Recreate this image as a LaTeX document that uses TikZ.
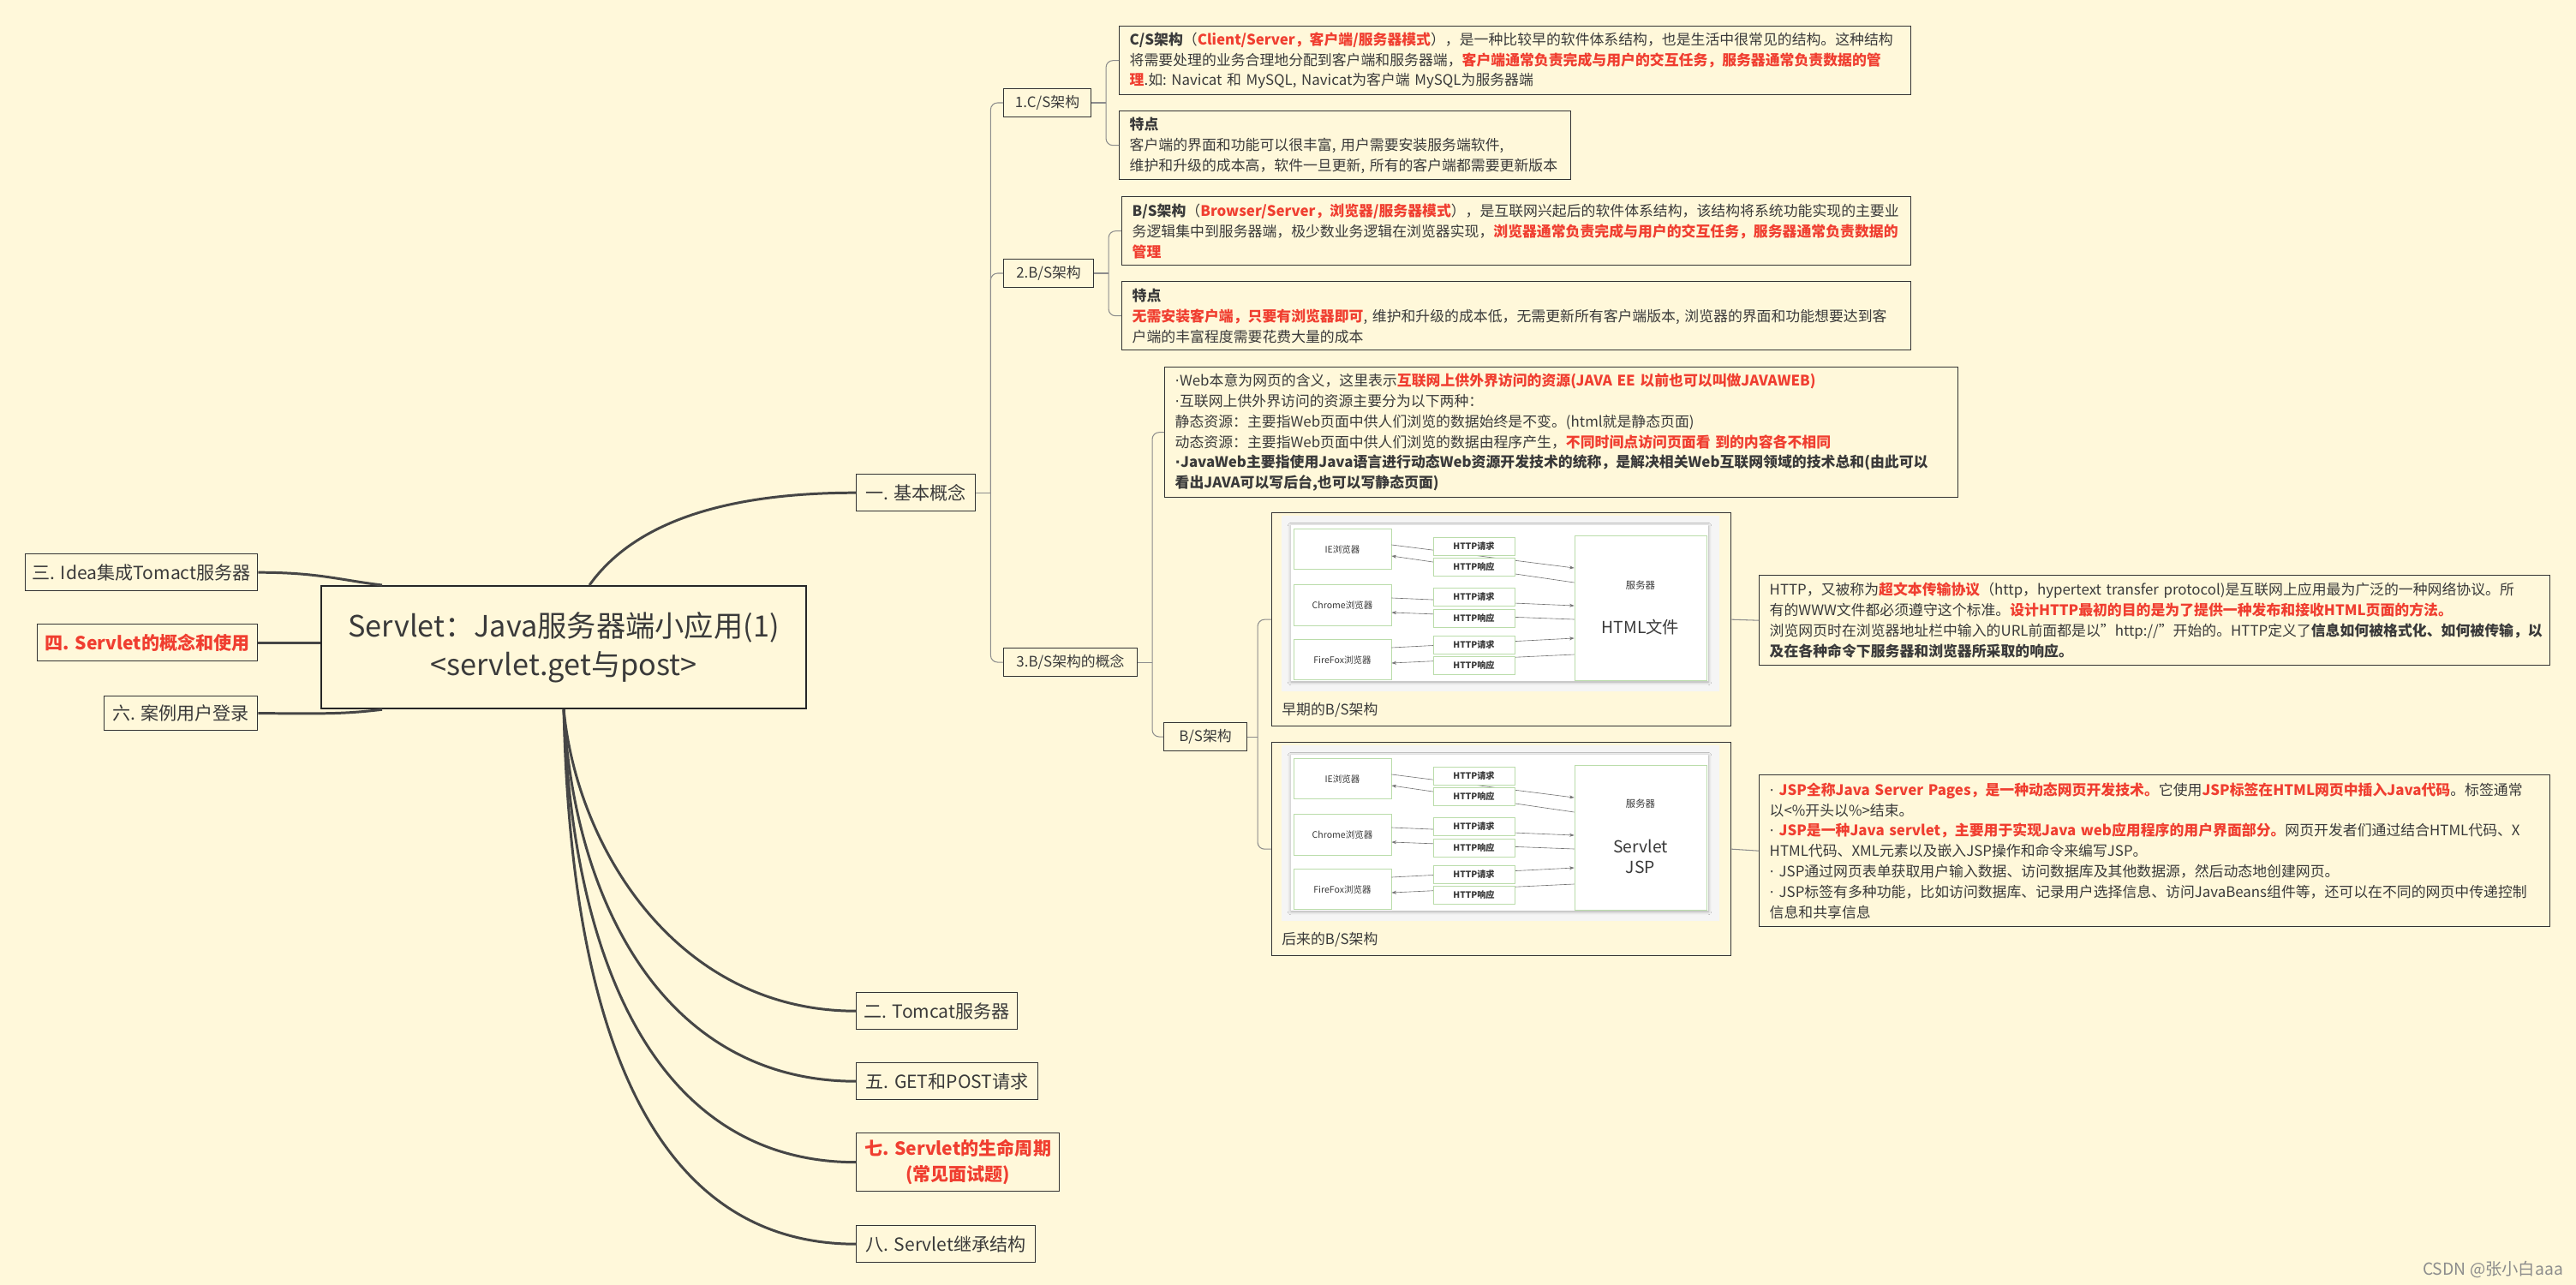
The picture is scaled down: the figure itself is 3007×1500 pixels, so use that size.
\documentclass[tikz,border=0pt]{standalone}
\usepackage{fontspec}
\setmainfont{Noto Sans CJK SC}
\newfontfamily\dotf{DejaVu Sans}
\usepackage{xcolor}
\usepackage{tikz}
\usetikzlibrary{calc,arrows.meta,shadows.blur}
\definecolor{bgc}{RGB}{255,248,218}
\definecolor{txt}{RGB}{58,58,58}
\definecolor{hred}{RGB}{240,62,48}
\definecolor{lnd}{RGB}{70,70,70}
\definecolor{lnt}{RGB}{140,140,140}
\definecolor{gbox}{RGB}{186,220,170}
\newcommand{\hl}[1]{\textcolor{hred}{\textbf{#1}}}
\newcommand{\bfnt}{\fontsize{9.6}{13.6}\selectfont}
\newcommand{\md}{{\dotf ·}}
\newcommand{\bsshot}[5]{
 \begin{scope}[shift={(0,#2)}]
 \node[shot] (#1) at (1484,0) {};
 \fill[black!4] (1496,4) rectangle (2007,209);
 \fill[white,blur shadow={shadow blur steps=5,shadow xshift=0pt,shadow yshift=-0.6pt,shadow opacity=30}] (1507,15) rectangle (1994,197);
 \node[brw] (#1ie) at (1567,43) {IE浏览器};
 \node[brw] (#1ch) at (1567,108.5) {Chrome浏览器};
 \node[brw] (#1ff) at (1567,172) {FireFox浏览器};
 \node[srv] (#1sv) at (1915,111.5) {};
 \draw[ar] ($(#1ie.east)+(0,-5)$) -- ($(#1sv.west)+(0,-46.5)$);
 \draw[ar] ($(#1sv.west)+(0,-29.5)$) -- ($(#1ie.east)+(0,8)$);
 \draw[ar] ($(#1ch.east)+(0,-8.5)$) -- ($(#1sv.west)+(0,-2.5)$);
 \draw[ar] ($(#1sv.west)+(0,13.5)$) -- ($(#1ch.east)+(0,8.5)$);
 \draw[ar] ($(#1ff.east)+(0,-14)$) -- ($(#1sv.west)+(0,35.5)$);
 \draw[ar] ($(#1sv.west)+(0,54.5)$) -- ($(#1ff.east)+(0,4)$);
 \node[hm] (#1q1) at (1720.5,39.5) {HTTP请求};
 \node[hm] (#1r1) at (1720.5,63.5) {HTTP响应};
 \node[hm] (#1q2) at (1720.5,99) {HTTP请求};
 \node[hm] (#1r2) at (1720.5,124) {HTTP响应};
 \node[hm] (#1q3) at (1720.5,154.5) {HTTP请求};
 \node[hm] (#1r3) at (1720.5,179) {HTTP响应};
 \node[font=\fontsize{6.5}{8}\selectfont] (#1lb) at (1915,#5) {服务器};
 \node[align=center,font=\fontsize{11}{14}\selectfont] (#1tx) at (1915,134) {#4};
 \node[capt] (#1c) at (1496,231) {#3};
 \end{scope}}
\begin{document}
\begin{tikzpicture}[x=0.02cm,y=-0.02cm,
 every node/.style={text=txt},
 rt/.style={draw=black!85,line width=1.3pt,anchor=north west,inner sep=0pt,minimum width=11.32cm,minimum height=2.86cm,align=center,font=\fontsize{19.5}{25.5}\selectfont},
 tp/.style={draw=black!80,line width=0.8pt,anchor=north west,inner sep=0pt,minimum height=0.86cm,align=center,font=\fontsize{12}{17}\selectfont},
 sb/.style={draw=black!80,line width=0.6pt,anchor=north west,inner sep=0pt,minimum height=0.66cm,font=\bfnt},
 nt/.style={draw=black!80,line width=0.8pt,anchor=north west,inner xsep=0.24cm,inner ysep=0pt,align=left,font=\bfnt},
 br/.style={draw=lnd,line width=1.7pt},
 ln/.style={draw=lnt,line width=0.6pt,rounded corners=0.16cm},
 shot/.style={draw=black!80,line width=0.8pt,anchor=north west,inner sep=0pt,minimum width=10.72cm,minimum height=4.98cm},
 brw/.style={draw=gbox,fill=white,line width=0.5pt,inner sep=0pt,minimum width=2.28cm,minimum height=0.95cm,font=\fontsize{6}{7}\selectfont},
 hm/.style={draw=gbox,fill=white,line width=0.5pt,inner sep=0pt,minimum width=1.9cm,minimum height=0.42cm,font=\fontsize{5.8}{7}\selectfont\bfseries},
 srv/.style={draw=gbox,fill=white,line width=0.5pt,inner sep=0pt,minimum width=3.08cm,minimum height=3.38cm},
 ar/.style={-{Stealth[length=1.1mm,width=0.8mm]},draw=black!55,line width=0.35pt},
 capt/.style={anchor=west,inner sep=0pt,font=\bfnt},
 wm/.style={text=black!45,font=\fontsize{11}{13}\selectfont}]
\useasboundingbox (0,0) rectangle (3007,1500);
\fill[bgc] (0,0) rectangle (3007,1500);
\node[rt] (root) at (374,683) {Servlet：Java服务器端小应用(1)\\<servlet.get与post>};
\node[tp,minimum width=5.42cm] (idea) at (29,646) {三. Idea集成Tomact服务器};
\node[tp,minimum width=5.14cm,text=hred,font=\fontsize{12}{17}\selectfont\bfseries] (four) at (43,728) {四. Servlet的概念和使用};
\node[tp,minimum width=3.58cm,minimum height=0.8cm] (six) at (121,812) {六. 案例用户登录};
\node[tp,minimum width=2.78cm] (basic) at (999,553) {一. 基本概念};
\node[tp,minimum width=3.76cm] (tc) at (999,1158) {二. Tomcat服务器};
\node[tp,minimum width=4.24cm] (gp) at (999,1240) {五. GET和POST请求};
\node[tp,minimum width=4.74cm,minimum height=1.36cm,text=hred,font=\fontsize{12}{17}\selectfont\bfseries] (life) at (999,1322) {七. Servlet的生命周期\\(常见面试题)};
\node[tp,minimum width=4.18cm] (inh) at (999,1430) {八. Servlet继承结构};
\draw[br] ([xshift=0.6cm]root.north) .. controls +(50,-70) and +(-160,0) .. (basic.west);
\draw[br] (idea.east) .. controls +(70,0) and +(-50,-6) .. ([xshift=1.44cm]root.north west);
\draw[br] (four.east) -- (four.east -| root.west);
\draw[br] (six.east) .. controls +(70,0) and +(-50,6) .. ([xshift=1.44cm]root.south west);
\draw[br] (root.south) .. controls +(15,160) and +(-210,0) .. (tc.west);
\draw[br] (root.south) .. controls +(12,230) and +(-220,0) .. (gp.west);
\draw[br] (root.south) .. controls +(10,300) and +(-230,0) .. (life.west);
\draw[br] (root.south) .. controls +(8,370) and +(-240,0) .. (inh.west);
\node[sb,minimum width=2.04cm] (csn) at (1171,103) {1.C/S架构};
\node[sb,minimum width=2.1cm] (bsn) at (1171,302) {2.B/S架构};
\node[sb,minimum width=3.12cm] (bscn) at (1171,756) {3.B/S架构的概念};
\node[sb,minimum width=1.94cm] (bsa) at (1358,843) {B/S架构};
\node[nt,text width=18.0cm,minimum height=1.6cm] (csA) at (1306,30) {\textbf{C/S架构}（\hl{Client/Server，客户端/服务器模式}），是一种比较早的软件体系结构，也是生活中很常见的结构。这种结构\\
将需要处理的业务合理地分配到客户端和服务器端，\hl{客户端通常负责完成与用户的交互任务，服务器通常负责数据的管}\\
\hl{理}.如:~Navicat~和~MySQL,~Navicat为客户端~MySQL为服务器端};
\node[nt,text width=10.06cm,minimum height=1.6cm] (csB) at (1306,129) {\textbf{特点}\\
客户端的界面和功能可以很丰富,~用户需要安装服务端软件,\\
维护和升级的成本高，软件一旦更新,~所有的客户端都需要更新版本};
\node[nt,text width=17.94cm,minimum height=1.6cm] (bsA) at (1309,229) {\textbf{B/S架构}（\hl{Browser/Server，浏览器/服务器模式}），是互联网兴起后的软件体系结构，该结构将系统功能实现的主要业\\
务逻辑集中到服务器端，极少数业务逻辑在浏览器实现，\hl{浏览器通常负责完成与用户的交互任务，服务器通常负责数据的}\\
\hl{管理}};
\node[nt,text width=17.94cm,minimum height=1.6cm] (bsB) at (1309,328) {\textbf{特点}\\
\hl{无需安装客户端，只要有浏览器即可},~维护和升级的成本低，无需更新所有客户端版本,~浏览器的界面和功能想要达到客\\
户端的丰富程度需要花费大量的成本};
\node[nt,text width=18.04cm,minimum height=3.04cm] (web) at (1359,428) {\md Web本意为网页的含义，这里表示\hl{互联网上供外界访问的资源(JAVA~EE~以前也可以叫做JAVAWEB)}\\
\md 互联网上供外界访问的资源主要分为以下两种：\\
静态资源：主要指Web页面中供人们浏览的数据始终是不变。(html就是静态页面)\\
动态资源：主要指Web页面中供人们浏览的数据由程序产生，\hl{不同时间点访问页面看~到的内容各不相同}\\
\textbf{\md JavaWeb主要指使用Java语言进行动态Web资源开发技术的统称，是解决相关Web互联网领域的技术总和(由此可以}\\
\textbf{看出JAVA可以写后台,也可以写静态页面)}};
\bsshot{imga}{598}{早期的B/S架构}{HTML文件}{85}
\bsshot{imgb}{866}{后来的B/S架构}{Servlet\\JSP}{72}
\node[nt,text width=17.98cm,minimum height=2.1cm] (http) at (2053,671) {HTTP，又被称为\hl{超文本传输协议}（http，hypertext~transfer~protocol)是互联网上应用最为广泛的一种网络协议。所\\
有的WWW文件都必须遵守这个标准。\hl{设计HTTP最初的目的是为了提供一种发布和接收HTML页面的方法。}\\
浏览网页时在浏览器地址栏中输入的URL前面都是以"http://"开始的。HTTP定义了\textbf{信息如何被格式化、如何被传输，以}\\
\textbf{及在各种命令下服务器和浏览器所采取的响应。}};
\node[nt,text width=17.98cm,minimum height=3.54cm] (jsp) at (2053,904) {\md~\hl{JSP全称Java~Server~Pages，是一种动态网页开发技术。}它使用\hl{JSP标签在HTML网页中插入Java代码}。标签通常\\
以<\%开头以\%>结束。\\
\md~\hl{JSP是一种Java~servlet，主要用于实现Java~web应用程序的用户界面部分。}网页开发者们通过结合HTML代码、X\\
HTML代码、XML元素以及嵌入JSP操作和命令来编写JSP。\\
\md~JSP通过网页表单获取用户输入数据、访问数据库及其他数据源，然后动态地创建网页。\\
\md~JSP标签有多种功能，比如访问数据库、记录用户选择信息、访问JavaBeans组件等，还可以在不同的网页中传递控制\\
信息和共享信息};
\draw[ln] (basic.east) -- ++(17,0) coordinate (ja);
\draw[ln] (ja) |- (csn.west);
\draw[ln] (ja) |- (bsn.west);
\draw[ln] (ja) |- (bscn.west);
\draw[ln] (csn.east) -- ++(17,0) coordinate (jb);
\draw[ln] (jb) |- (csA.west);
\draw[ln] (jb) |- (csB.west);
\draw[ln] (bsn.east) -- ++(17,0) coordinate (jc);
\draw[ln] (jc) |- (bsA.west);
\draw[ln] (jc) |- (bsB.west);
\draw[ln] (bscn.east) -- ++(17,0) coordinate (jd);
\draw[ln] (jd) |- (web.west);
\draw[ln] (jd) |- (bsa.west);
\draw[ln] (bsa.east) -- ++(12,0) coordinate (je);
\draw[ln] (je) |- (imga.west);
\draw[ln] (je) |- (imgb.west);
\draw[ln] (imga.east) -- (http.west);
\draw[ln] (imgb.east) -- (jsp.west);
\node[wm] (mark) at (2910,1482) {CSDN @张小白aaa};
\end{tikzpicture}
\end{document}
